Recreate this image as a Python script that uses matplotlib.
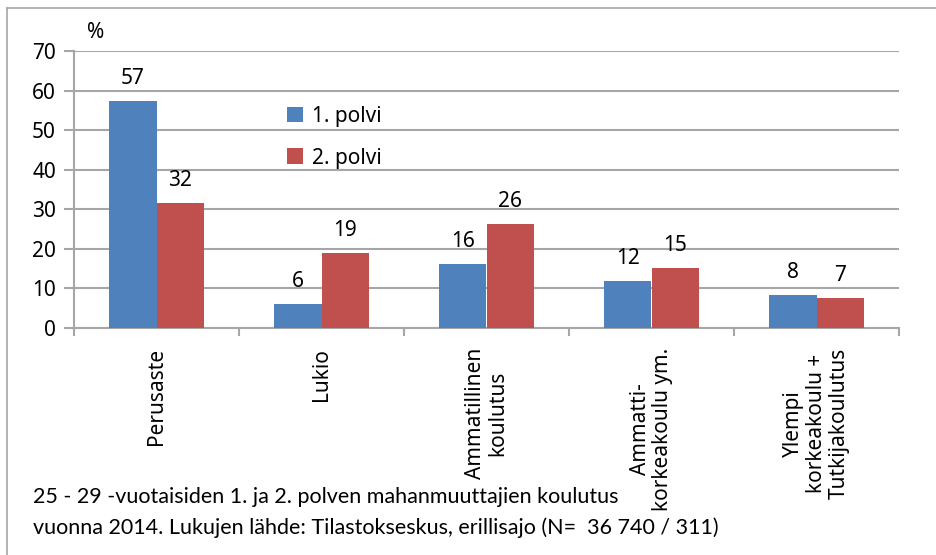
import matplotlib.pyplot as plt
import numpy as np
from matplotlib.lines import Line2D

# veriler
kategoriat = ["Perusaste", "Lukio", "Ammatillinen\nkoulutus",
              "Ammatti-\nkorkeakoulu ym.", "Ylempi\nkorkeakoulu +\nTutkijakoulutus"]
polvi1 = [57.4, 6.1, 16.2, 11.9, 8.3]
polvi2 = [31.6, 19.0, 26.3, 15.2, 7.6]
polvi1_teksti = ["57", "6", "16", "12", "8"]
polvi2_teksti = ["32", "19", "26", "15", "7"]
y_ticks = [0, 10, 20, 30, 40, 50, 60, 70]

sininen = "#4f81bd"
punainen = "#c0504d"
harmaa = "#a6a6a6"

plt.rcParams["font.family"] = ["Noto Sans", "DejaVu Sans"]

fig = plt.figure(figsize=(9.37, 5.55), dpi=100)
ax = fig.add_axes([74/937, 1-328/555, (899-74)/937, (328-51)/555])

x = np.arange(len(kategoriat))
w = 0.285
ax.bar(x - w/2, polvi1, w, color=sininen, label="1. polvi", zorder=3)
ax.bar(x + w/2, polvi2, w, color=punainen, label="2. polvi", zorder=3)

for i in range(len(x)):
    ax.text(x[i] - w/2, polvi1[i] + 3, polvi1_teksti[i], ha="center", va="bottom", fontsize=15)
    ax.text(x[i] + w/2, polvi2[i] + 3, polvi2_teksti[i], ha="center", va="bottom", fontsize=15)

ax.set_xlim(-0.5, len(x) - 0.5)
ax.set_ylim(0, 70)
ax.set_yticks(y_ticks)
ax.tick_params(axis="y", labelsize=15, length=7, color=harmaa, width=1.5, pad=6)
ax.yaxis.grid(True, color=harmaa, linewidth=1.5, zorder=0)

# kategoriarajat
ax.set_xticks(np.arange(-0.5, len(x), 1))
ax.set_xticklabels([])
ax.tick_params(axis="x", length=6, color=harmaa, width=1.5)
for i, k in enumerate(kategoriat):
    ax.text(x[i], -5, k, rotation=90, ha="center", va="top", fontsize=15,
            linespacing=1.1, transform=ax.transData, clip_on=False)

for s in ["top", "right"]:
    ax.spines[s].set_visible(False)
ax.spines["left"].set_color(harmaa)
ax.spines["bottom"].set_color(harmaa)
ax.spines["left"].set_linewidth(1.5)
ax.spines["bottom"].set_linewidth(1.5)

fig.text(87/937, 1-33/555, "%", fontsize=15, ha="left", va="center")

ax.legend(loc="upper left", bbox_to_anchor=(0.235, 0.87), frameon=False, fontsize=15,
          handlelength=0.8, handleheight=0.8, handletextpad=0.4, labelspacing=1.0)

fig.text(33/937, 1-497/555, "25 - 29 -vuotaisiden 1. ja 2. polven mahanmuuttajien koulutus",
         fontsize=15.5, ha="left", va="center", family=["Lato", "DejaVu Sans"])
fig.text(33/937, 1-528/555, "vuonna 2014. Lukujen lähde: Tilastokseskus, erillisajo (N=  36 740 / 311)",
         fontsize=15.5, ha="left", va="center", family=["Lato", "DejaVu Sans"])

# kehys
fig.add_artist(Line2D([7/937, 7/937], [0, 1-8/555], color=harmaa, linewidth=1.2))
fig.add_artist(Line2D([7/937, 1], [1-8/555, 1-8/555], color=harmaa, linewidth=1.2))

fig.savefig("out.png", dpi=100)
